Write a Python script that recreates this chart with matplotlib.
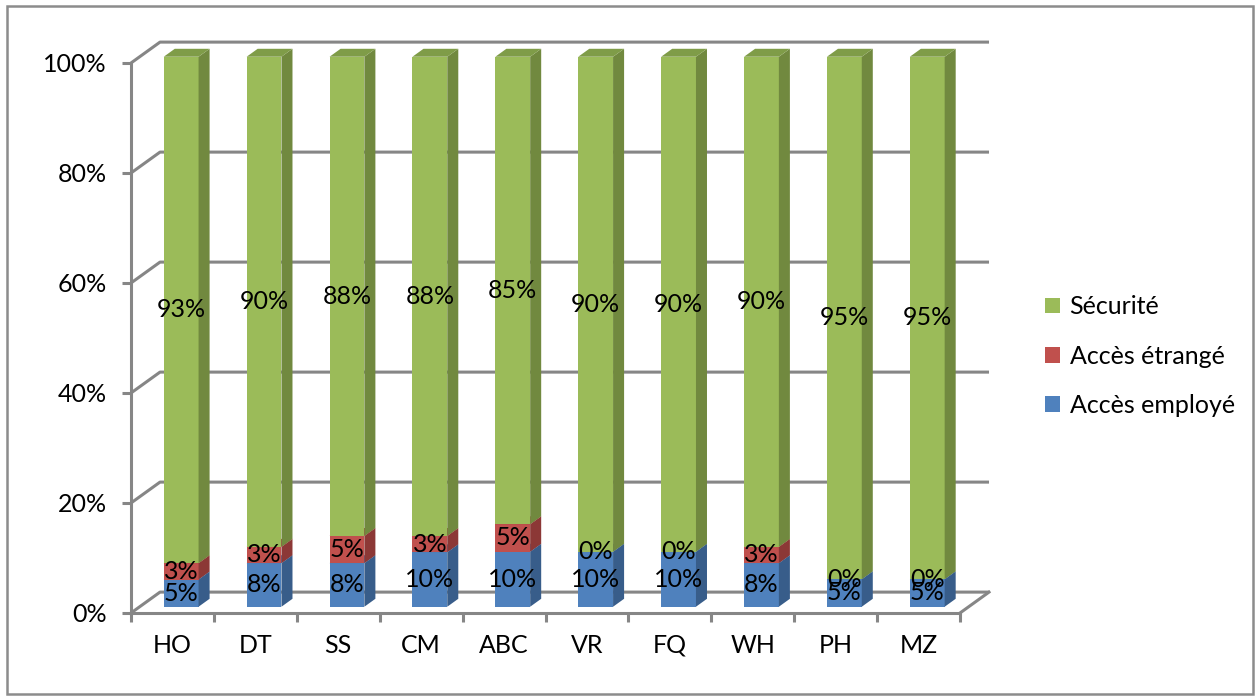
import numpy as np
import matplotlib
matplotlib.use("Agg")
import matplotlib.pyplot as plt
from matplotlib.patches import Polygon, Patch, Rectangle

plt.rcParams['font.family'] = ['Lato', 'DejaVu Sans']

sites = ['HO', 'DT', 'SS', 'CM', 'ABC', 'VR', 'FQ', 'WH', 'PH', 'MZ']
acces_employe = [5, 8, 8, 10, 10, 10, 10, 8, 5, 5]
acces_etrange = [3, 3, 5, 3, 5, 0, 0, 3, 0, 0]
securite = [93, 90, 88, 88, 85, 90, 90, 90, 95, 95]

series = [('Accès employé', acces_employe, '#4F81BD', '#385D8A', '#4A77AE'),
          ('Accès étrangé', acces_etrange, '#C0504D', '#8C3836', '#A94744'),
          ('Sécurité', securite, '#9BBB59', '#71893F', '#7F9C48')]

# 3d look: depth vector in data units (categories, percent)
DX, DY = 0.35, 3.8
F0, F1 = 0.3, 0.68   # bar front / back depth fraction
HW = 0.21            # half bar width
grid_col = '#868686'
FS = 18

fig = plt.figure(figsize=(12.59, 7), dpi=100)
ax = fig.add_axes([131/1259, 87/700, 829/1259, 550/700])
ax.set_xlim(-0.5, 9.5)
ax.set_ylim(0, 100)
for s in ['top', 'right']:
    ax.spines[s].set_visible(False)
for s in ['left', 'bottom']:
    ax.spines[s].set_color(grid_col)
    ax.spines[s].set_linewidth(2.2)

# back wall gridlines + left wall diagonals
for g in range(0, 101, 20):
    ax.plot([-0.5, -0.5 + DX, 9.5 + DX], [g, g + DY, g + DY], color=grid_col,
            lw=2.2, clip_on=False, zorder=1, solid_capstyle='butt')
# floor right edge
ax.plot([9.5, 9.5 + DX], [0, DY], color=grid_col, lw=2.2, clip_on=False, zorder=1)

n = len(sites)
tot = np.array(acces_employe) + np.array(acces_etrange) + np.array(securite)
bottom = np.zeros(n)
for name, vals, c_front, c_side, c_top in series:
    h = np.array(vals) / tot * 100
    for i in range(n):
        x0 = i - HW + F0 * DX
        x1 = i + HW + F0 * DX
        y0 = bottom[i] + F0 * DY
        y1 = y0 + h[i]
        ddx = (F1 - F0) * DX
        ddy = (F1 - F0) * DY
        if h[i] > 0:
            ax.add_patch(Rectangle((x0, y0), x1 - x0, y1 - y0, facecolor=c_front,
                                   edgecolor='none', clip_on=False, zorder=3))
            ax.add_patch(Polygon([(x1, y0), (x1 + ddx, y0 + ddy), (x1 + ddx, y1 + ddy), (x1, y1)],
                                 facecolor=c_side, edgecolor='none', clip_on=False, zorder=3))
            ax.add_patch(Polygon([(x0, y1), (x1, y1), (x1 + ddx, y1 + ddy), (x0 + ddx, y1 + ddy)],
                                 facecolor=c_top, edgecolor='none', clip_on=False, zorder=3))
        ax.text((x0 + x1) / 2, (y0 + y1) / 2, f'{vals[i]}%', ha='center', va='center',
                fontsize=FS, color='black', zorder=5, clip_on=False)
    bottom += h

ax.set_yticks(range(0, 101, 20))
ax.set_yticklabels([f'{g}%' for g in range(0, 101, 20)])
ax.set_xticks(np.arange(-0.5, 10, 1))
ax.set_xticklabels([])
ax.set_xticks(range(n), minor=True)
ax.set_xticklabels(sites, minor=True)
ax.tick_params(axis='both', which='major', color=grid_col, width=2.2, length=6.5, labelsize=FS)
ax.tick_params(axis='y', pad=11)
ax.tick_params(axis='x', which='minor', length=0, pad=15, labelsize=FS)

handles = [Patch(facecolor=s[2], label=s[0]) for s in series[::-1]]
fig.legend(handles=handles, loc='center left', bbox_to_anchor=(1022/1259, 1 - 356/700),
           frameon=False, fontsize=FS, handlelength=0.6, handleheight=0.6,
           handletextpad=0.4, labelspacing=1.05)

fig.add_artist(Rectangle((7/1259, 6/700), 1246/1259, 688/700, transform=fig.transFigure,
                         facecolor='none', edgecolor='#8C8C8C', lw=1.8))

fig.savefig('out.png', dpi=100)
